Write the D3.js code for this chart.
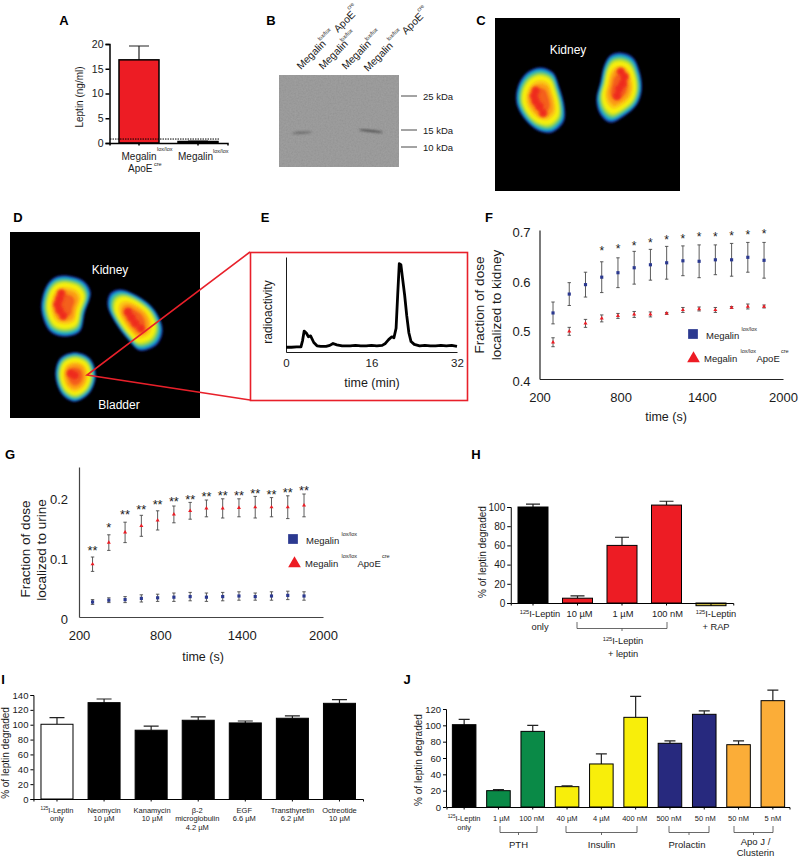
<!DOCTYPE html>
<html>
<head>
<meta charset="utf-8">
<script src="https://cdn.jsdelivr.net/npm/d3@7"></script>
<style>
  html, body { margin: 0; padding: 0; background: #fff; }
  svg { display: block; }
  text { font-family: "Liberation Sans", Arial, sans-serif; fill: #1a1a1a; }
</style>
</head>
<body>
<div class="main"></div>
<script>
// Panel A
const aValues = [16.8, 0.3];
const aErrTops = [19.6, 0.4];
const aColors = ['#ed1c24', '#000'];
const aTicks = [0, 5, 10, 15, 20];
const aDetection = 0.8;

// Panel B, gel
const bMarkers = [25, 15, 10];
const bBands = [
  { lane: 0, kda: 14.2, length: 0.85, tone: 0.5, tilt: -4 },
  { lane: 3, kda: 14.7, length: 1.05, tone: 0.8, tilt: 6 }
];

// Panel E, trace
const eTimes = [0, 1, 2, 2.8, 3.1, 3.4, 3.8, 4.2, 4.6, 5.2, 5.8, 6.5, 7.5, 8.2, 8.8, 9.5, 10.5, 12, 13, 14, 15, 16, 17, 18, 18.6, 19.2, 19.8, 20.2, 20.6, 20.9, 21.2, 21.5, 21.8, 22.2, 22.6, 23, 23.4, 24, 25, 26, 27, 28, 29, 30, 31, 32];
const eSignal = [5, 5, 5.5, 5.5, 12, 22, 20, 16, 17, 10, 6.5, 6, 6, 7, 9, 7.5, 6.5, 6.5, 7, 6.5, 6.5, 7, 6.5, 7, 9, 13, 16, 15, 25, 60, 93, 92, 78, 60, 38, 20, 11, 8, 6.5, 7, 6.5, 6.5, 7, 6.5, 7, 6];
const eTicks = [0, 16, 32];

// Panels F and G share the same time points
const times = [300, 420, 540, 660, 780, 900, 1020, 1140, 1260, 1380, 1500, 1620, 1740, 1860];
const timeTicks = [200, 800, 1400, 2000];

const fBlue = [0.533, 0.571, 0.59, 0.605, 0.614, 0.624, 0.63, 0.634, 0.638, 0.637, 0.64, 0.64, 0.645, 0.639];
const fBlueErr = [0.022, 0.023, 0.025, 0.031, 0.03, 0.033, 0.031, 0.033, 0.03, 0.033, 0.03, 0.033, 0.03, 0.036];
const fRed = [0.474, 0.496, 0.512, 0.522, 0.527, 0.53, 0.53, 0.532, 0.539, 0.541, 0.539, 0.544, 0.546, 0.546];
const fRedErr = [0.009, 0.008, 0.008, 0.007, 0.005, 0.006, 0.005, 0.002, 0.005, 0.004, 0.005, 0.002, 0.005, 0.003];
const fStarTimes = [660, 780, 900, 1020, 1140, 1260, 1380, 1500, 1620, 1740, 1860];
const fStarLevels = [0.662, 0.667, 0.673, 0.679, 0.685, 0.687, 0.69, 0.691, 0.693, 0.695, 0.696];
const fTicks = [0.4, 0.5, 0.6, 0.7];

const gBlue = [0.025, 0.028, 0.029, 0.031, 0.032, 0.033, 0.034, 0.033, 0.034, 0.035, 0.034, 0.035, 0.036, 0.035];
const gBlueErr = [0.004, 0.004, 0.005, 0.006, 0.006, 0.007, 0.007, 0.007, 0.007, 0.007, 0.006, 0.007, 0.007, 0.007];
const gRed = [0.088, 0.124, 0.141, 0.152, 0.161, 0.171, 0.177, 0.181, 0.181, 0.182, 0.183, 0.183, 0.183, 0.186];
const gRedErr = [0.012, 0.013, 0.017, 0.0175, 0.016, 0.014, 0.014, 0.014, 0.016, 0.015, 0.018, 0.016, 0.019, 0.019];
const gStars = ['**', '*', '**', '**', '**', '**', '**', '**', '**', '**', '**', '**', '**', '**'];
const gStarLevels = [0.115, 0.154, 0.175, 0.183, 0.191, 0.196, 0.2, 0.205, 0.207, 0.207, 0.21, 0.209, 0.212, 0.215];
const gTicks = [0, 0.1, 0.2];

// Panel H
const hValues = [100, 5, 60, 102, -2.8];
const hErrTops = [103, 7.5, 68.5, 106, -0.8];
const hColors = ['#000', '#ed1c24', '#ed1c24', '#ed1c24', '#c2b03e'];
const hLabels = [['^125|I-Leptin', 'only'], ['10 µM'], ['1 µM'], ['100 nM'], ['^125|I-Leptin', '+ RAP']];
const hTicks = [0, 20, 40, 60, 80, 100];

// Panel I
const iValues = [100.6, 129.7, 92.6, 106, 102.4, 108.7, 128.8];
const iErrTops = [109.6, 134.6, 98, 110.5, 105, 112, 133.7];
const iColors = ['#fff', '#000', '#000', '#000', '#000', '#000', '#000'];
const iLabels = [['^125|I-Leptin', 'only'], ['Neomycin', '10 µM'], ['Kanamycin', '10 µM'], ['β-2', 'microglobulin', '4.2 µM'], ['EGF', '6.6 µM'], ['Transthyretin', '6.2 µM'], ['Octreotide', '10 µM']];
const iTicks = [0, 20, 40, 60, 80, 100, 120, 140];

// Panel J
const jValues = [100.8, 20, 92.6, 24.9, 52.7, 109.8, 78, 113.5, 76.3, 130.2];
const jErrTops = [107.3, 21.2, 100, 26, 65, 135.5, 81, 117.6, 81, 143];
const jColors = ['#000', '#0a8a47', '#0a8a47', '#f8ee0a', '#f8ee0a', '#f8ee0a', '#27297e', '#27297e', '#fbad38', '#fbad38'];
const jLabels = [['^125|I-Leptin', 'only'], ['1 µM'], ['100 nM'], ['40 µM'], ['4 µM'], ['400 nM'], ['500 nM'], ['50 nM'], ['50 nM'], ['5 nM']];
const jGroups = [
  { name: ['PTH'], from: 1, to: 2 },
  { name: ['Insulin'], from: 3, to: 5 },
  { name: ['Prolactin'], from: 6, to: 7 },
  { name: ['Apo J /', 'Clusterin'], from: 8, to: 9 }
];
const jTicks = [0, 20, 40, 60, 80, 100, 120];

// Scan images: outlines in image units (0-100)
const scanLevels = [
  { k: 1, c: '#141c70' }, { k: 0.96, c: '#1464c8' }, { k: 0.91, c: '#1fb2c4' },
  { k: 0.86, c: '#55c078' }, { k: 0.8, c: '#b4e02c' }, { k: 0.73, c: '#f6ee10' },
  { k: 0.6, c: '#fbc412' }, { k: 0.5, c: '#fb9a12' }, { k: 0.36, c: '#f4601a' }
];
const cKidneyL = [[24.3, 28.3], [31.4, 31.2], [35.1, 40.5], [37.8, 52], [37.3, 60.1], [30.8, 66.5], [23.2, 65.3], [16.2, 59], [11.4, 49.1], [12.4, 38.7], [17.3, 31.2]];
const cKidneyR = [[67.6, 19.7], [74.6, 22.5], [78.4, 31.2], [79.5, 41.6], [76.8, 50.3], [70.3, 56.6], [62.2, 60.7], [56.8, 56.1], [54.6, 47.4], [56.8, 37], [58.9, 27.2], [62.2, 21.4]];
const dKidneyL = [[27.9, 23.1], [38.4, 25.8], [42.6, 32.3], [39.5, 43.5], [36.8, 53.8], [28.9, 56.5], [21.1, 53.8], [16.3, 41.9], [18.4, 30.1], [22.6, 24.7]];
const dKidneyR = [[57.9, 30.6], [68.4, 34.9], [76.3, 41.9], [80.5, 52.7], [77.4, 60.8], [68.4, 64], [62.1, 58.1], [55.3, 48.9], [51.1, 39.2], [52.6, 32.8]];
const dBladder = [[34.2, 64.5], [42.1, 67.7], [45.3, 76.9], [42.1, 86.6], [34.2, 91.4], [27.4, 87.6], [23.7, 76.9], [26.3, 67.7]];
const cHot = [[22, 42], [21, 45], [22, 48], [24, 51], [26, 55], [68, 31], [70, 34], [69, 38], [67, 41], [66, 45]];
const dHot = [[27, 33], [26, 36], [25, 39], [26, 42], [28, 45], [69, 52], [66, 49], [64, 46], [62, 43], [34, 77], [32, 76]];

const width = 800;
const height = 857;

const svg = d3.select('.main')
  .append('svg')
  .attr('width', width)
  .attr('height', height);

const defs = svg.append('defs');
defs.append('filter').attr('id', 'soft').append('feGaussianBlur').attr('stdDeviation', 1.2);
defs.append('filter').attr('id', 'hotBlur').append('feGaussianBlur').attr('stdDeviation', 1.6);
defs.append('filter').attr('id', 'bandBlur').append('feGaussianBlur').attr('stdDeviation', 0.8);
const grain = defs.append('filter').attr('id', 'grain');
grain.append('feTurbulence').attr('type', 'fractalNoise').attr('baseFrequency', 0.6).attr('numOctaves', 2).attr('seed', 4);
grain.append('feColorMatrix').attr('values', '0 0 0 0 0  0 0 0 0 0  0 0 0 0 0  0 0 0 0.2 0');
grain.append('feComposite').attr('in2', 'SourceGraphic').attr('operator', 'in');
grain.append('feMerge').call(m => {
  m.append('feMergeNode').attr('in', 'SourceGraphic');
  m.append('feMergeNode');
});

// Text helpers
function label(x, y, str, size, opts = {}) {
  const t = svg.append('text')
    .attr('x', x).attr('y', y)
    .attr('font-size', size)
    .attr('text-anchor', opts.anchor || 'middle')
    .attr('font-weight', opts.bold ? 'bold' : null);
  if (opts.rotate !== undefined) t.attr('transform', `rotate(${opts.rotate} ${x} ${y})`);
  if (opts.fill) t.style('fill', opts.fill);
  // "^125|I-Leptin" means 125 set as a superscript
  if (str[0] === '^') {
    const parts = str.slice(1).split('|');
    t.append('tspan').attr('font-size', size * 0.62).attr('dy', -size * 0.35).text(parts[0]);
    t.append('tspan').attr('dy', size * 0.35).text(parts[1]);
  } else {
    t.text(str);
  }
  return t;
}

function panelLetter(x, y, letter) {
  label(x, y, letter, 13, { bold: true }).style('fill', '#000');
}

function styleAxis(g, size, color, lineWidth) {
  g.selectAll('text').attr('font-size', size).attr('font-family', null);
  g.selectAll('.domain,line').attr('stroke', color).attr('stroke-width', lineWidth);
}

function bracket(x0, x1, top) {
  const path = d3.path();
  path.moveTo(x0, top); path.lineTo(x0, top + 6.5); path.lineTo(x1, top + 6.5); path.lineTo(x1, top);
  path.moveTo((x0 + x1) / 2, top + 6.5); path.lineTo((x0 + x1) / 2, top + 9);
  svg.append('path').attr('d', path.toString()).attr('fill', 'none').attr('stroke', '#444').attr('stroke-width', 0.8);
}

// Bar panel with upward error bars
function barPanel(cfg) {
  const x = d3.scaleBand().domain(d3.range(cfg.values.length)).range(cfg.xRange)
    .paddingInner(cfg.padding).paddingOuter(cfg.padding / 2);
  const y = d3.scaleLinear().domain(cfg.domain).range(cfg.yRange);
  const g = svg.append('g');

  g.selectAll('line.err').data(cfg.values).enter().append('path')
    .attr('d', (d, i) => {
      const cx = x(i) + x.bandwidth() / 2;
      return `M${cx},${y(d)}V${y(cfg.errTops[i])}M${cx - cfg.cap},${y(cfg.errTops[i])}H${cx + cfg.cap}`;
    })
    .attr('fill', 'none').attr('stroke', '#222').attr('stroke-width', 1.2);

  g.selectAll('rect').data(cfg.values).enter().append('rect')
    .attr('x', (d, i) => x(i))
    .attr('y', d => Math.min(y(d), y(0)))
    .attr('width', x.bandwidth())
    .attr('height', d => Math.abs(y(0) - y(d)))
    .attr('fill', (d, i) => cfg.colors[i])
    .attr('stroke', '#000').attr('stroke-width', cfg.stroke || 1.2);

  svg.append('g').attr('transform', `translate(${cfg.xRange[0] - cfg.axisGap},0)`)
    .call(d3.axisLeft(y).tickValues(cfg.ticks).tickSize(cfg.tickSize).tickPadding(2).tickFormat(d3.format('d')))
    .call(a => styleAxis(a, cfg.tickFont, '#000', cfg.axisWidth));
  svg.append('g').attr('transform', `translate(${-cfg.axisGap / 2},${y(0)})`)
    .call(d3.axisBottom(x).tickSize(2.5).tickFormat(''))
    .call(a => styleAxis(a, cfg.tickFont, '#000', cfg.axisWidth))
    .call(a => a.selectAll('.tick').attr('transform', (d, i) => `translate(${x(i) + x.bandwidth() / 2 + cfg.axisGap / 2},0)`));
  return { x, y };
}

// Point panel for F and G
function timePanel(cfg) {
  const x = d3.scaleLinear().domain([200, 2000]).range(cfg.xRange);
  const y = d3.scaleLinear().domain(cfg.domain).range(cfg.yRange);
  svg.append('g').attr('transform', `translate(${cfg.xRange[0]},0)`)
    .call(d3.axisLeft(y).tickValues(cfg.ticks).tickSize(cfg.tickSize).tickPadding(cfg.yPad).tickFormat(d => d === 0 ? '0' : d3.format('.1f')(d)))
    .call(a => styleAxis(a, 13, cfg.axisColor, 1.2))
    .call(a => a.selectAll('text').attr('dy', '0.5em'));
  svg.append('g').attr('transform', `translate(0,${cfg.yRange[0]})`)
    .call(d3.axisBottom(x).tickValues(timeTicks).tickSize(0).tickPadding(cfg.xPad).tickFormat(d3.format('d')))
    .call(a => styleAxis(a, 13, cfg.axisColor, 1.2));

  function series(values, errs, color, marker) {
    const g = svg.append('g');
    g.selectAll('path.e').data(values).enter().append('path')
      .attr('d', (d, i) => {
        const cx = x(times[i]);
        const t = y(d + errs[i]), b = y(d - errs[i]);
        return `M${cx - 1.7},${t}H${cx + 1.7}M${cx},${t}V${b}M${cx - 1.7},${b}H${cx + 1.7}`;
      })
      .attr('fill', 'none').attr('stroke', '#4a4a4a').attr('stroke-width', 0.9);
    g.selectAll('path.m').data(values).enter().append('path')
      .attr('d', d3.symbol().type(marker).size(marker === d3.symbolSquare ? 10 : 7))
      .attr('transform', (d, i) => `translate(${x(times[i])},${y(d)})`)
      .attr('fill', color);
  }
  series(cfg.blue, cfg.blueErr, '#2b3990', d3.symbolSquare);
  series(cfg.red, cfg.redErr, '#ed1c24', d3.symbolTriangle);
  return { x, y };
}

function legend(sq, tri) {
  const blue = '#2b3990', red = '#ed1c24';
  svg.append('path').attr('d', d3.symbol().type(d3.symbolSquare).size(95)).attr('fill', blue)
    .attr('transform', `translate(${sq.x + 5},${sq.y - 5})`);
  svg.append('path').attr('d', d3.symbol().type(d3.symbolTriangle).size(70)).attr('fill', red)
    .attr('transform', `translate(${tri.x + 5.5},${tri.y - 3.5})`);
  label(sq.x + 18, sq.y, 'Megalin', 9.5, { anchor: 'start' });
  label(sq.x + 53.5, sq.y - 8, 'lox/lox', 5.5, { anchor: 'start' });
  label(tri.x + 16, tri.y, 'Megalin', 9.5, { anchor: 'start' });
  label(tri.x + 52.5, tri.y - 9.5, 'lox/lox', 5.5, { anchor: 'start' });
  label(tri.x + 68.5, tri.y, 'ApoE', 9.5, { anchor: 'start' });
  label(tri.x + 93, tri.y - 9.5, 'cre', 5.5, { anchor: 'start' });
}

// Scan image with layered hot spots
function scan(frame, blobs, hot, caption) {
  svg.append('rect').attr('x', frame.x).attr('y', frame.y).attr('width', frame.w).attr('height', frame.h).attr('fill', '#000');
  const sx = d3.scaleLinear().domain([0, 100]).range([frame.x, frame.x + frame.w]);
  const sy = d3.scaleLinear().domain([0, 100]).range([frame.y, frame.y + frame.h]);
  const outline = d3.line().x(p => sx(p[0])).y(p => sy(p[1])).curve(d3.curveCatmullRomClosed);
  const g = svg.append('g').attr('filter', 'url(#soft)');
  blobs.forEach(points => {
    const c = d3.polygonCentroid(points);
    scanLevels.forEach(level => {
      g.append('path')
        .attr('d', outline(points.map(p => [c[0] + (p[0] - c[0]) * level.k, c[1] + (p[1] - c[1]) * level.k])))
        .attr('fill', level.c);
    });
  });
  svg.append('g').attr('filter', 'url(#hotBlur)').selectAll('circle').data(hot).enter().append('circle')
    .attr('cx', d => sx(d[0])).attr('cy', d => sy(d[1])).attr('r', 4.2).attr('fill', '#ee2a1e');
  caption.forEach(c => label(c.x, c.y, c.text, 12, { fill: '#fff' }));
}

// A
panelLetter(64, 25, 'A');
const pa = barPanel({
  values: aValues, errTops: aErrTops, colors: aColors, ticks: aTicks,
  xRange: [109.5, 227.5], yRange: [143, 44], domain: [0, 20], padding: 0.322,
  cap: 10, axisGap: 0, tickSize: 4, tickFont: 10.5, axisWidth: 1.5, stroke: 1.5
});
svg.append('line').attr('x1', 110).attr('x2', pa.x(1) + pa.x.bandwidth() + 2)
  .attr('y1', pa.y(aDetection)).attr('y2', pa.y(aDetection))
  .attr('stroke', '#000').attr('stroke-width', 1).attr('stroke-dasharray', '1.5 1');
label(83, 97, 'Leptin (ng/ml)', 10, { rotate: -90 });
label(139, 160, 'Megalin', 10);
label(157, 150.5, 'lox/lox', 5.5, { anchor: 'start' });
label(128, 171.5, 'ApoE', 10, { anchor: 'start' });
label(154, 166, 'cre', 5.5, { anchor: 'start' });
label(178, 160, 'Megalin', 10, { anchor: 'start' });
label(213, 152.5, 'lox/lox', 5.5, { anchor: 'start' });

// B
panelLetter(271, 25, 'B');
const gelLane = d3.scalePoint().domain([0, 1, 2, 3]).range([302, 371]);
const gelKda = d3.scaleLinear().domain([10, 15, 25]).range([147, 130, 96]);
svg.append('rect').attr('x', 279).attr('y', 75).attr('width', 120).attr('height', 92).attr('fill', '#a2a2a2').attr('filter', 'url(#grain)');
svg.append('g').attr('filter', 'url(#bandBlur)').selectAll('ellipse').data(bBands).enter().append('ellipse')
  .attr('cx', d => gelLane(d.lane))
  .attr('cy', d => gelKda(d.kda))
  .attr('rx', d => d.length * 12)
  .attr('ry', 1.1)
  .attr('transform', d => `rotate(${d.tilt} ${gelLane(d.lane)} ${gelKda(d.kda)})`)
  .attr('fill', '#3c3c3c')
  .attr('opacity', d => d.tone);
svg.append('g').selectAll('line').data(bMarkers).enter().append('line')
  .attr('x1', 401).attr('x2', 417)
  .attr('y1', d => gelKda(d)).attr('y2', d => gelKda(d))
  .attr('stroke', '#333').attr('stroke-width', 0.9);
bMarkers.forEach(k => label(423, gelKda(k) + 3.5, `${k} kDa`, 9.5, { anchor: 'start' }));
[[301, 70], [323, 70], [346, 70], [368, 72]].forEach(p => label(p[0], p[1], 'Megalin', 10.3, { anchor: 'start', rotate: -45 }));
[[320, 41], [342, 42], [367, 41], [389, 41]].forEach(p => label(p[0], p[1], 'lox/lox', 5.5, { anchor: 'start', rotate: -45 }));
[[338, 33], [406, 35]].forEach(p => label(p[0], p[1], 'ApoE', 10.3, { anchor: 'start', rotate: -45 }));
[[349, 10], [419, 12]].forEach(p => label(p[0], p[1], 'cre', 5.5, { anchor: 'start', rotate: -45 }));

// C
panelLetter(481, 25, 'C');
scan({ x: 495, y: 18, w: 185, h: 173 }, [cKidneyL, cKidneyR], cHot, [{ x: 568, y: 54, text: 'Kidney' }]);

// D
panelLetter(18, 222, 'D');
scan({ x: 10, y: 232, w: 190, h: 186 }, [dKidneyL, dKidneyR, dBladder], dHot, [{ x: 110, y: 274, text: 'Kidney' }, { x: 119, y: 409, text: 'Bladder' }]);

// E
panelLetter(265, 222, 'E');
svg.append('rect').attr('x', 250.5).attr('y', 252.5).attr('width', 217).attr('height', 148)
  .attr('fill', '#fff').attr('stroke', '#e8202a').attr('stroke-width', 1.6);
svg.append('path').attr('d', 'M250,252L87,375L250,400')
  .attr('fill', 'none').attr('stroke', '#e8202a').attr('stroke-width', 1.6);
const ex = d3.scaleLinear().domain([0, 32]).range([286, 457]);
const ey = d3.scaleLinear().domain([0, 100]).range([352, 257]);
svg.append('path').datum(eTimes)
  .attr('d', d3.line().x(d => ex(d)).y((d, i) => ey(eSignal[i])))
  .attr('fill', 'none').attr('stroke', '#000').attr('stroke-width', 2.8).attr('stroke-linejoin', 'round');
svg.append('g').attr('transform', 'translate(286,0)')
  .call(d3.axisLeft(ey).tickValues([]).tickSize(0))
  .call(a => styleAxis(a, 11, '#000', 0.9));
svg.append('g').attr('transform', 'translate(0,352)')
  .call(d3.axisBottom(ex).tickValues(eTicks).tickSize(0).tickPadding(7).tickFormat(d3.format('d')))
  .call(a => styleAxis(a, 11.5, '#000', 0.9));
label(372, 387, 'time (min)', 12.5);
label(272, 312, 'radioactivity', 12, { rotate: -90 });

// F
panelLetter(489, 222, 'F');
const pf = timePanel({
  xRange: [539.5, 783], yRange: [379, 230], domain: [0.4, 0.7], ticks: fTicks,
  blue: fBlue, blueErr: fBlueErr, red: fRed, redErr: fRedErr,
  tickSize: 0, yPad: 9, xPad: 14, axisColor: '#222'
});
svg.append('g').selectAll('text').data(fStarLevels).enter().append('text')
  .attr('x', (d, i) => pf.x(fStarTimes[i]))
  .attr('y', d => pf.y(d) + 6.5)
  .attr('text-anchor', 'middle').attr('font-size', 12).text('*');
label(484, 305, 'Fraction of dose', 13.5, { rotate: -90 });
label(501, 305, 'localized to kidney', 13.5, { rotate: -90 });
label(666, 421, 'time (s)', 12.5);
legend({ x: 688, y: 339 }, { x: 688, y: 362 });

// G
panelLetter(10, 459, 'G');
const pg = timePanel({
  xRange: [79, 323], yRange: [617, 467], domain: [0, 0.25], ticks: gTicks,
  blue: gBlue, blueErr: gBlueErr, red: gRed, redErr: gRedErr,
  tickSize: 0, yPad: 11, xPad: 14, axisColor: '#444'
});
svg.append('g').selectAll('text').data(gStarLevels).enter().append('text')
  .attr('x', (d, i) => pg.x(times[i]))
  .attr('y', d => pg.y(d) + 7)
  .attr('text-anchor', 'middle').attr('font-size', 12.8)
  .text((d, i) => gStars[i]);
label(30, 549, 'Fraction of dose', 13.5, { rotate: -90 });
label(46, 550, 'localized to urine', 13.5, { rotate: -90 });
label(203, 661, 'time (s)', 12.5);
legend({ x: 288, y: 544 }, { x: 289, y: 567 });

// Multi-line category labels under a bar panel
function barLabels(scale, labels, nudges, top, size, leading) {
  labels.forEach((lines, i) => {
    lines.forEach((line, j) => {
      label(scale(i) + scale.bandwidth() / 2 + (nudges[i] || 0), top + j * leading, line, size);
    });
  });
}

// H
panelLetter(476, 459, 'H');
const ph = barPanel({
  values: hValues, errTops: hErrTops, colors: hColors, ticks: hTicks,
  xRange: [510.75, 733.25], yRange: [603, 507], domain: [0, 100], padding: 0.326,
  cap: 7, axisGap: 0, tickSize: 3.5, tickFont: 10, axisWidth: 1, stroke: 1
});
barLabels(ph.x, hLabels, [7, 2, 1, 1, 5], 617, 9.3, 13);
bracket(577, 667, 622);
label(623, 644, '^125|I-Leptin', 9.3);
label(623, 657, '+ leptin', 9.3);
label(486, 552, '% of leptin degraded', 10, { rotate: -90 });

// I
panelLetter(3, 684, 'I');
const pi = barPanel({
  values: iValues, errTops: iErrTops, colors: iColors, ticks: iTicks,
  xRange: [33.45, 363], yRange: [799, 695], domain: [0, 140], padding: 0.32,
  cap: 7.5, axisGap: 0, tickSize: 3, tickFont: 9.5, axisWidth: 1, stroke: 1
});
barLabels(pi.x, iLabels, [0, 0, 1, -1, -1, 0, 0], 812.5, 7.5, 8.7);
label(9, 753, '% of leptin degraded', 10, { rotate: -90 });

// J
panelLetter(407, 684, 'J');
const pj = barPanel({
  values: jValues, errTops: jErrTops, colors: jColors, ticks: jTicks,
  xRange: [447, 790], yRange: [807, 709], domain: [0, 120], padding: 0.313,
  cap: 5.5, axisGap: 1, tickSize: 3, tickFont: 9.5, axisWidth: 1, stroke: 1
});
barLabels(pj.x, jLabels, [0, 3, -1, 0, 0, -1, -1, 1, 0, 0], 821, 7.5, 8.7);
const jBracketEnds = [[500, 537], [566, 637], [669, 709], [734, 773]];
jGroups.forEach((grp, i) => {
  bracket(jBracketEnds[i][0], jBracketEnds[i][1], 826);
  grp.name.forEach((line, j) => {
    label((jBracketEnds[i][0] + jBracketEnds[i][1]) / 2 + (i === 2 ? -2 : i === 3 ? 2 : 0), (i === 3 ? 844.5 : 848) + j * 11, line, 9.5);
  });
});
label(422, 760, '% of leptin degraded', 10, { rotate: -90 });
</script>
</body>
</html>
